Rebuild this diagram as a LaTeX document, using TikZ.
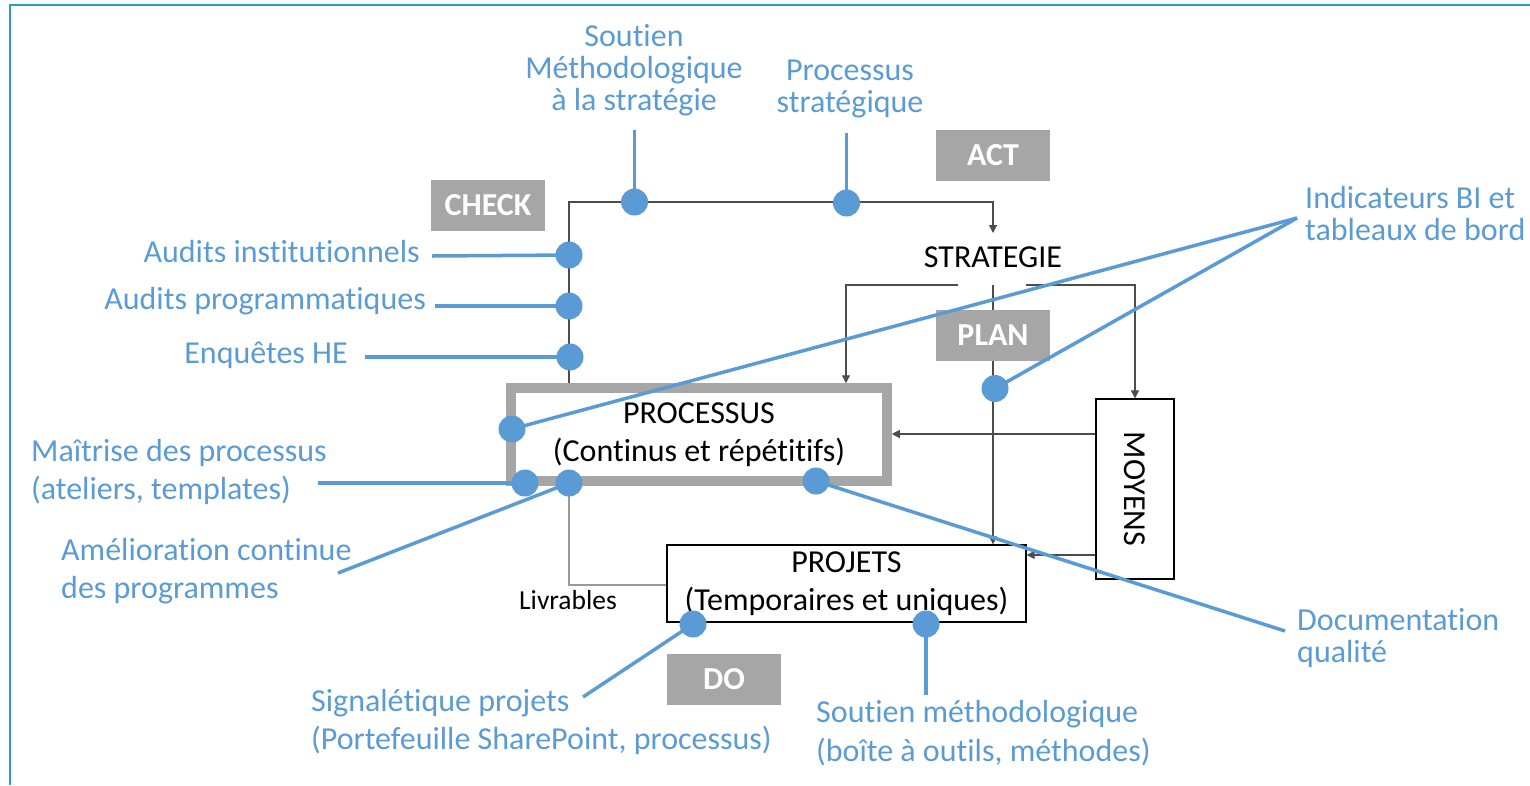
\documentclass[tikz,border=0pt]{standalone}
\usepackage{fontspec}
\setmainfont{Carlito}[Ligatures=NoCommon]
\usetikzlibrary{arrows.meta}
\definecolor{qblue}{HTML}{5B9BD5}
\definecolor{qgrey}{HTML}{A6A6A6}
\definecolor{qframe}{HTML}{2E9CBF}
\begin{document}
\begin{tikzpicture}[x=1pt,y=-1pt,
  phase/.style={fill=qgrey, text=white, font=\bfseries\fontsize{32}{38}\selectfont,
    minimum width=114pt, minimum height=51pt, inner sep=0pt},
  main/.style={font=\fontsize{32}{38.5}\selectfont, inner sep=0pt, align=center},
  lbl/.style={text=qblue, font=\fontsize{32}{38.5}\selectfont, inner sep=0pt},
  lbltight/.style={text=qblue, font=\fontsize{32}{32}\selectfont, inner sep=0pt},
  tag/.style={circle, fill=qblue, minimum size=27pt, inner sep=0pt},
  lead/.style={draw=qblue, line width=3.5pt},
  flow/.style={draw=black!70, line width=1.1pt, -{Triangle[length=8pt,width=8pt]}},
  flowlight/.style={flow, draw=black!40}
]
\useasboundingbox (0,0) rectangle (1530,785);

% frame
\draw[qframe, line width=1.6pt] (10,785) -- (10,5) -- (1530,5);

% helper rows and columns
\coordinate (y434) at (0,434);
\coordinate (y555) at (0,555);
\coordinate (y585) at (0,585);
\coordinate (x569) at (569,0);
\coordinate (x846) at (846,0);
\coordinate (x993) at (993,0);

% main elements
\node[main] (strat) at (993,257) {STRATEGIE};
\coordinate (stratin) at (993,233);
\coordinate (sl) at (958,285);
\coordinate (sm) at (993,285);
\coordinate (sr) at (1026,285);

\node[main, draw=qgrey, line width=9.5pt, minimum width=376pt, minimum height=93pt]
  (proc) at (699,434.5) {PROCESSUS\\(Continus et répétitifs)};
\node[main, draw=black, line width=1.2pt, minimum width=359pt, minimum height=77pt]
  (proj) at (846.5,583.5) {PROJETS\\(Temporaires et uniques)};
\node[main, draw=black, line width=1.2pt, minimum width=78pt, minimum height=180pt]
  (moy) at (1135,489) {\rotatebox{-90}{MOYENS}};
\node[font=\fontsize{27.5}{30}\selectfont, inner sep=0pt] (livr) at (568,600) {Livrables};

% flows
\draw[flow] (proc.north -| x569) |- (993,202) -- (stratin);
\draw[flow] (sl) -| (proc.north -| x846);
\draw[flow] (sr) -| (moy.north);
\draw[flow] (sm) -- (proj.north -| x993);
\draw[flow] (moy.west |- y434) -- (proc.east |- y434);
\draw[flow] (moy.west |- y555) -- (proj.east |- y555);
\draw[flowlight] (proj.west |- y585) -| (proc.south -| x569);

% PDCA phases
\node[phase] (check) at (488,205.5) {CHECK};
\node[phase] (act) at (993,155) {ACT};
\node[phase] (plan) at (993,335) {PLAN};
\node[phase] (do) at (724,679) {DO};

% blue labels
\node[lbltight, align=center] (t1) at (634,70) {Soutien\\Méthodologique\\à la stratégie};
\node[lbltight, align=center] (t2) at (850,88.5) {Processus\\stratégique};
\node[lbl, anchor=east] (t3) at (420,252) {Audits institutionnels};
\node[lbl, anchor=east] (t4) at (426,301) {Audits programmatiques};
\node[lbl, anchor=east] (t5) at (348,355) {Enquêtes HE};
\node[lbltight, align=left, anchor=west] (t6) at (1305,214) {Indicateurs BI et\\tableaux de bord};
\node[lbl, align=left, anchor=west] (t7) at (31,472) {Maîtrise des processus\\(ateliers, templates)};
\node[lbl, align=left, anchor=west] (t8) at (61,571) {Amélioration continue\\des programmes};
\node[lbltight, align=left, anchor=west] (t9) at (1297,638) {Documentation\\qualité};
\node[lbl, align=left, anchor=west] (t10) at (311,722) {Signalétique projets\\(Portefeuille SharePoint, processus)};
\node[lbl, align=left, anchor=west] (t11) at (816,733) {Soutien méthodologique\\(boîte à outils, méthodes)};

% lead line ends
\coordinate (e1) at (634.5,130);
\coordinate (e2) at (846.5,133);
\coordinate (e3) at (432,256);
\coordinate (e4) at (435,306);
\coordinate (e5) at (365,357);
\coordinate (e6) at (1297,218);
\coordinate (e7) at (318,483);
\coordinate (e8) at (338,573);
\coordinate (e9) at (1285,631);
\coordinate (e10) at (583,697);
\coordinate (e11) at (926,695);

% tag points
\coordinate (d1) at (634.5,202);
\coordinate (d2) at (846.5,203);
\coordinate (d3) at (569,255);
\coordinate (d4) at (569,306);
\coordinate (d5) at (570,357);
\coordinate (d6) at (512,429);
\coordinate (d7) at (995,388.5);
\coordinate (d8) at (525,483);
\coordinate (d9) at (569,483);
\coordinate (d10) at (816,481);
\coordinate (d11) at (693,624);
\coordinate (d12) at (926,624);

\draw[lead] (d1) -- (e1);
\draw[lead] (d2) -- (e2);
\draw[lead] (d3) -- (e3);
\draw[lead] (d4) -- (e4);
\draw[lead] (d5) -- (e5);
\draw[lead] (d6) -- (e6);
\draw[lead] (d7) -- (e6);
\draw[lead] (d8) -- (e7);
\draw[lead] (d9) -- (e8);
\draw[lead] (d10) -- (e9);
\draw[lead] (d11) -- (e10);
\draw[lead] (d12) -- (e11);

\foreach \i in {1,...,12} { \node[tag] (tag\i) at (d\i) {}; }
\end{tikzpicture}
\end{document}
